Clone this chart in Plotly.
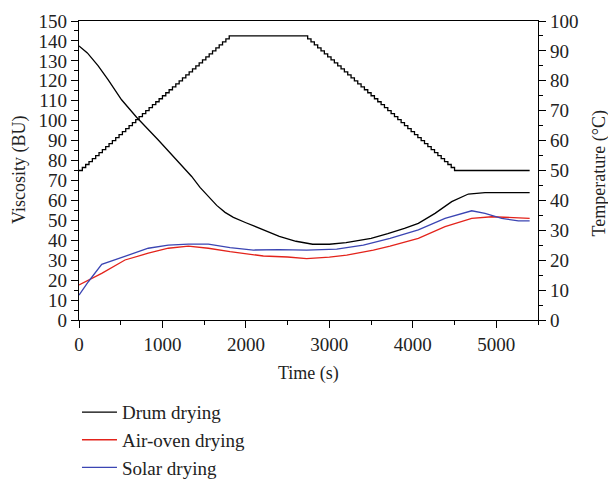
import plotly.graph_objects as go

# ---- data ----
drum_time = [0, 100, 230, 350, 510, 690, 950, 1230, 1350, 1450, 1550, 1650, 1750, 1850, 2000,
             2200, 2400, 2600, 2800, 3000, 3200, 3500, 3700, 3900, 4066, 4266, 4466, 4665, 4865, 5400]
drum_visc = [137.5, 134, 127.5, 120.5, 110.5, 101.7, 90.3, 77.8, 72, 66.5, 62, 57.5, 54, 51.5, 48.8,
             45.2, 42, 39.5, 38, 38, 38.8, 41, 43.3, 46, 48.5, 53.5, 59.4, 63.2, 63.9, 63.9]

oven_time = [0, 112, 272, 551, 830, 1070, 1310, 1550, 1810, 2209, 2500, 2728, 3000, 3208, 3527,
             3727, 4066, 4386, 4706, 4945, 5400]
oven_visc = [17.6, 20, 23.4, 30.1, 33.5, 36, 37.1, 36, 34.3, 32.1, 31.6, 30.8, 31.5, 32.6, 35.1,
             37.1, 41, 46.8, 51, 51.8, 51]

solar_time = [0, 112, 272, 551, 830, 1070, 1310, 1550, 1810, 2090, 2400, 2728, 3088, 3407, 3727,
              4066, 4386, 4706, 4865, 5065, 5265, 5400]
solar_visc = [12.5, 19.2, 27.9, 31.8, 36, 37.6, 38.1, 38.1, 36.3, 35.1, 35.3, 35.1, 35.6, 37.6, 41,
              45.2, 51, 54.8, 53.5, 51, 49.7, 49.7]

# temperature programme (key points); recorded in 1 °C steps
temp_time = [0, 1800, 2700, 4500, 5400]
temp_value = [50, 95, 95, 50, 50]
temp_step = 1

x_ticks = [0, 1000, 2000, 3000, 4000, 5000]
series_names = ["Drum drying", "Air-oven drying", "Solar drying"]
x_title = "Time (s)"
y_title = "Viscosity (BU)"
y2_title = "Temperature (°C)"

# build staircase of the recorded temperature
st_t, st_v = [temp_time[0]], [temp_value[0]]
for i in range(1, len(temp_time)):
    t0, t1 = temp_time[i - 1], temp_time[i]
    v0, v1 = temp_value[i - 1], temp_value[i]
    n = int(round(abs(v1 - v0) / temp_step))
    if n == 0:
        st_t.append(t1); st_v.append(v1)
    else:
        d = (t1 - t0) / n
        s = temp_step if v1 > v0 else -temp_step
        for k in range(1, n + 1):
            st_t.append(t0 + k * d); st_v.append(v0 + k * s)

FONT = "Liberation Serif"
FS = 19
TFS = 18
W, H = 608, 480

fig = go.Figure()
fig.add_trace(go.Scatter(x=st_t, y=st_v, yaxis="y2", mode="lines", line_shape="hv",
                         line=dict(color="black", width=1.3), showlegend=False))
fig.add_trace(go.Scatter(x=drum_time, y=drum_visc, mode="lines", name=series_names[0],
                         line=dict(color="black", width=1.3), legendgroup="a"))
fig.add_trace(go.Scatter(x=oven_time, y=oven_visc, mode="lines", name=series_names[1],
                         line=dict(color="#e3231b", width=1.3), legendgroup="b"))
fig.add_trace(go.Scatter(x=solar_time, y=solar_visc, mode="lines", name=series_names[2],
                         line=dict(color="#3b45b3", width=1.3), legendgroup="c"))

axis_common = dict(showline=True, linecolor="black", linewidth=1.3, ticks="outside",
                   ticklen=7, tickwidth=1.2, tickcolor="black", showgrid=False, zeroline=False,
                   automargin=False,
                   tickfont=dict(family=FONT, size=FS, color="#222"))

title_font = dict(family=FONT, size=TFS, color="#222")

fig.update_layout(
    width=W, height=H,
    margin=dict(l=79, r=70, t=21, b=160, autoexpand=False),
    plot_bgcolor="white", paper_bgcolor="white",
    font=dict(family=FONT, size=FS, color="#222"),
    xaxis=dict(range=[0, 5500], tickvals=x_ticks, mirror=True,
               minor=dict(dtick=500, ticklen=4, tickcolor="black", ticks="outside"),
               **axis_common),
    yaxis=dict(range=[0, 150], dtick=10,
               minor=dict(dtick=5, ticklen=4, tickcolor="black", ticks="outside"),
               **axis_common),
    yaxis2=dict(range=[0, 100], dtick=10, overlaying="y", side="right",
                minor=dict(dtick=5, ticklen=4, tickcolor="black", ticks="outside"),
                **axis_common),
    legend=dict(x=-0.0044, y=-0.2448, xanchor="left", yanchor="top", traceorder="grouped",
                tracegroupgap=0, itemwidth=35, font=dict(family=FONT, size=FS, color="#222"),
                bgcolor="rgba(0,0,0,0)"),
    annotations=[
        dict(text=x_title, xref="paper", yref="paper", x=0.5, y=-0.1806,
             xanchor="center", yanchor="middle", showarrow=False, font=title_font),
        dict(text=y_title, xref="paper", yref="paper", x=-0.1296, y=0.5, textangle=-90,
             xanchor="center", yanchor="middle", showarrow=False, font=title_font),
        dict(text=y2_title, xref="paper", yref="paper", x=1.1329, y=0.49, textangle=-90,
             xanchor="center", yanchor="middle", showarrow=False, font=title_font),
    ],
)

fig.write_html("out.html",
               config={"displayModeBar": False},
               post_script="document.body.style.margin='0px';"
                           "document.body.style.overflow='hidden';"
                           "document.documentElement.style.overflow='hidden';")
